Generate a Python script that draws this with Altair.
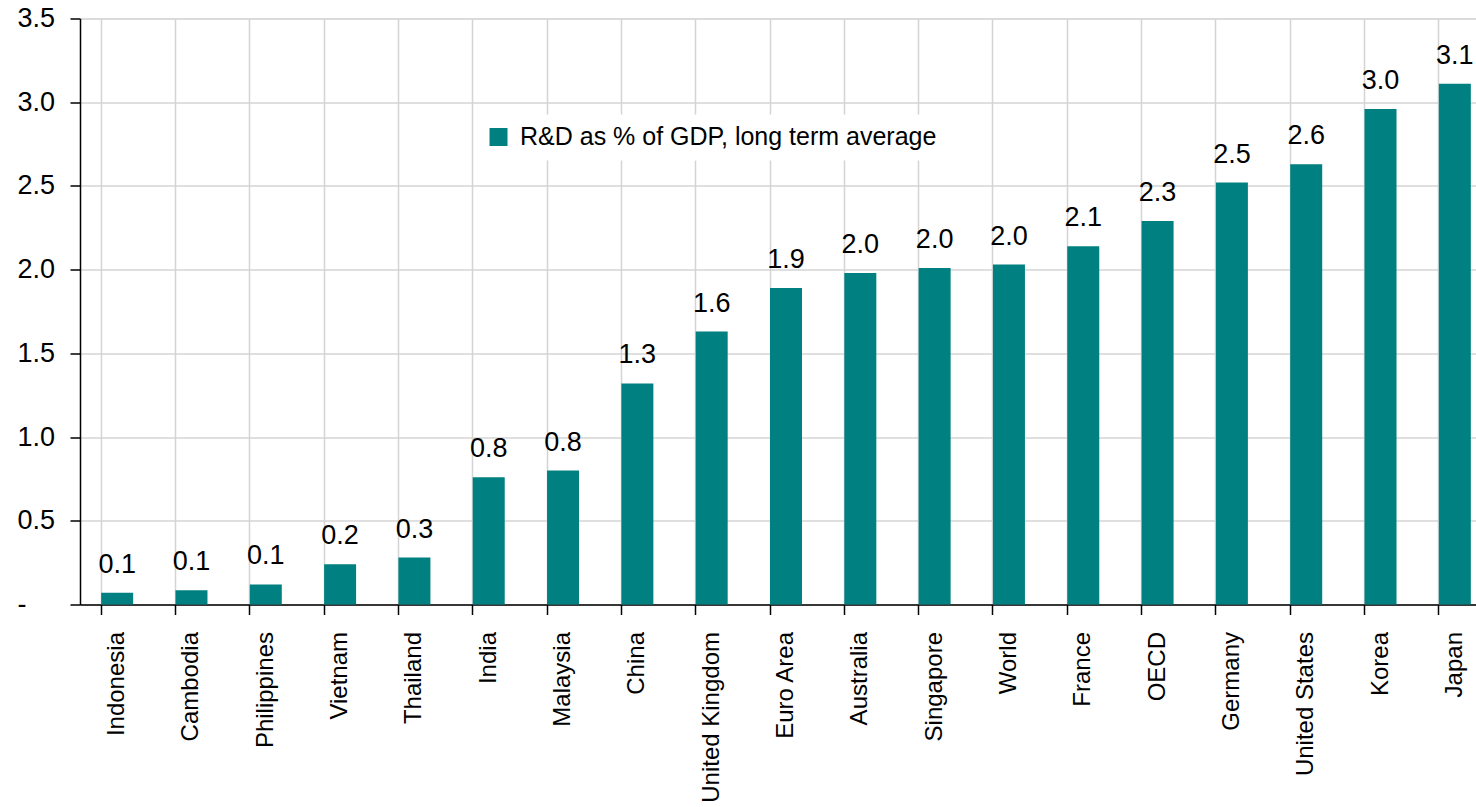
import altair as alt
import pandas as pd

# R&D spending as a share of GDP, long term average (%)
countries = [
    "Indonesia", "Cambodia", "Philippines", "Vietnam", "Thailand", "India",
    "Malaysia", "China", "United Kingdom", "Euro Area", "Australia",
    "Singapore", "World", "France", "OECD", "Germany", "United States",
    "Korea", "Japan",
]
values = [
    0.07, 0.085, 0.12, 0.24, 0.28, 0.76,
    0.80, 1.32, 1.63, 1.89, 1.98,
    2.01, 2.03, 2.14, 2.29, 2.52, 2.63,
    2.96, 3.11,
]
series_name = "R&D as % of GDP, long term average"
y_ticks = [0, 0.5, 1.0, 1.5, 2.0, 2.5, 3.0, 3.5]

df = pd.DataFrame({"country": countries, "value": values, "series": series_name})

FONT = "Liberation Sans Narrow, Arial Narrow, Liberation Sans, Arial, sans-serif"
TEAL = "#008080"
GRID = "#d4d4d4"

# The category band runs a little past the right edge of the view,
# so the last column is cut by the frame.
x_enc = alt.X(
    "country:N",
    sort=countries,
    title=None,
    scale=alt.Scale(range=[0, 1412], paddingInner=0.57, paddingOuter=0.285),
    axis=alt.Axis(
        labelAngle=270,
        labelFont=FONT,
        labelFontSize=24,
        labelColor="black",
        labelPadding=17,
        labelLimit=0,
        tickSize=10,
        tickColor="black",
        tickWidth=1.5,
        domainColor="black",
        domainWidth=1.5,
        grid=True,
        gridColor=GRID,
        gridWidth=1.5,
        bandPosition=0,
    ),
)

y_enc = alt.Y(
    "value:Q",
    title=None,
    scale=alt.Scale(domain=[0, 3.5], nice=False),
    axis=alt.Axis(
        values=y_ticks,
        labelExpr="datum.value == 0 ? '-' : format(datum.value, '.1f')",
        labelFont=FONT,
        labelFontSize=27,
        labelColor="black",
        labelAlign="left",
        labelPadding=53,
        tickSize=10,
        tickColor="black",
        tickWidth=1.5,
        domainColor="black",
        domainWidth=1.5,
        grid=True,
        gridColor=GRID,
        gridWidth=1.5,
    ),
)

bars = alt.Chart(df).mark_bar(size=32).encode(
    x=x_enc,
    y=y_enc,
    color=alt.Color(
        "series:N",
        scale=alt.Scale(range=[TEAL]),
        legend=alt.Legend(
            title=None,
            orient="none",
            legendX=396,
            legendY=96,
            fillColor="white",
            padding=10,
            symbolType="square",
            symbolSize=324,
            symbolStrokeWidth=0,
            symbolOpacity=1,
            labelFont=FONT,
            labelFontSize=25,
            labelColor="black",
            labelOffset=9,
            labelLimit=0,
        ),
    ),
)

labels = alt.Chart(df).mark_text(
    font=FONT,
    fontSize=27,
    color="black",
    baseline="alphabetic",
    dy=-20,
).encode(
    x=alt.X("country:N", sort=countries),
    y="value:Q",
    text=alt.Text("value:Q", format=".1f"),
)

chart = (
    alt.layer(bars, labels)
    .properties(
        width=1396,
        height=586,
        autosize=alt.AutoSizeParams(type="none"),
        padding={"left": 80, "top": 18.5, "right": 0, "bottom": 202},
    )
    .configure_view(stroke=None)
    .configure(background="white")
)

chart.save("out.html", embed_options={"renderer": "svg", "actions": False})
